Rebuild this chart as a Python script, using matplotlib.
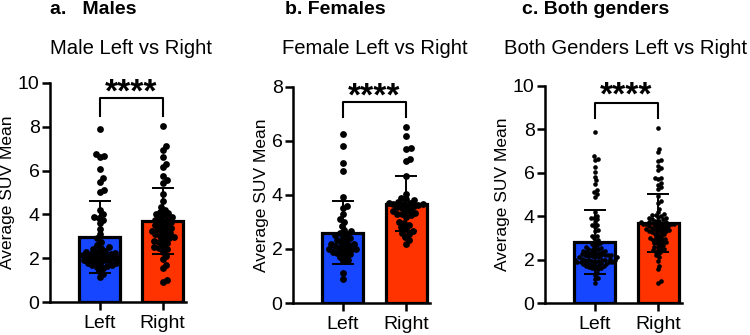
import numpy as np
import matplotlib
matplotlib.use("Agg")
import matplotlib.pyplot as plt

plt.rcParams['font.family'] = ['Liberation Sans', 'DejaVu Sans']

# values (average SUV mean per subject)
male_left = [7.88, 6.75, 6.65, 6.6, 6.05, 5.65, 5.5, 5.1, 5.0, 4.2, 4.0, 3.9, 3.85, 3.75,
             3.6, 3.35, 3.1, 2.9, 2.75, 2.6, 2.5, 2.45, 2.4, 2.35, 2.3, 2.3, 2.25, 2.2, 2.2,
             2.15, 2.1, 2.1, 2.05, 2.0, 2.0, 1.95, 1.9, 1.9, 1.85, 1.8, 1.8, 1.75, 1.7, 1.65,
             1.6, 1.55, 1.4, 1.3, 1.15, 2.0, 1.7, 2.2, 1.9]
male_right = [8.05, 7.1, 6.95, 6.6, 6.3, 6.15, 5.75, 5.55, 5.45, 4.95, 4.6, 4.35, 4.2, 4.1,
              4.05, 4.0, 3.95, 3.9, 3.85, 3.8, 3.75, 3.7, 3.65, 3.6, 3.55, 3.5, 3.45, 3.4,
              3.3, 3.25, 3.2, 3.15, 3.1, 3.05, 3.0, 2.95, 2.9, 2.85, 2.8, 2.7, 2.6, 2.5, 2.4,
              2.3, 2.1, 1.95, 1.7, 1.55, 1.0, 0.9, 3.35, 2.75, 2.45]
female_left = [6.27, 5.8, 5.2, 4.87, 3.92, 3.6, 3.5, 3.3, 3.1, 3.0, 2.85, 2.7, 2.65, 2.6,
               2.55, 2.5, 2.45, 2.4, 2.35, 2.3, 2.25, 2.2, 2.2, 2.15, 2.1, 2.05, 2.0, 2.0,
               1.95, 1.9, 1.85, 1.8, 1.75, 1.7, 1.6, 1.55, 1.1, 0.9, 2.0, 1.9, 2.1]
female_right = [6.53, 6.2, 5.75, 5.7, 5.35, 5.25, 4.7, 4.05, 3.9, 3.85, 3.8, 3.75, 3.72, 3.7,
                3.68, 3.65, 3.62, 3.6, 3.58, 3.55, 3.5, 3.45, 3.4, 3.35, 3.3, 3.25, 3.2, 3.3,
                3.4, 3.0, 2.95, 2.9, 2.8, 2.75, 2.65, 2.6, 2.55, 2.45, 2.35, 2.2, 3.65]
both_left = male_left + female_left
both_right = male_right + female_right

categories = ['Left', 'Right']
bar_colors = ['#1646FF', '#FF3300']

panels = [
    # data, axes rect, ymax, yticks, title, title x, label, label x, bracket y, marker size
    ((male_left, male_right), [0.0667, 0.0985, 0.181, 0.654], 10, [0, 2, 4, 6, 8, 10],
     'Male Left vs Right', 0.175, 'a.   Males', 0.066, (9.3, 8.5), 24),
    ((female_left, female_right), [0.3907, 0.0955, 0.182, 0.645], 8, [0, 2, 4, 6, 8],
     'Female Left vs Right', 0.50, 'b. Females', 0.380, (7.45, 6.9), 24),
    ((both_left, both_right), [0.7267, 0.0955, 0.182, 0.648], 10, [0, 2, 4, 6, 8, 10],
     'Both Genders Left vs Right', 0.834, 'c. Both genders', 0.696, (9.2, 8.5), 11),
]

W, H = 750, 335
fig = plt.figure(figsize=(7.5, 3.35), dpi=100)


def swarm(vals, d_px, xpx, ypx):
    # simple beeswarm: put each point as close to the centre as it can go
    vals = np.asarray(vals)
    offs = np.zeros(len(vals))
    placed = []
    for i in np.argsort(vals):
        y = vals[i] * ypx
        cands = [0.0]
        for px, py in placed:
            dy = y - py
            if abs(dy) < d_px:
                dx = np.sqrt(d_px ** 2 - dy ** 2)
                cands += [px + dx, px - dx]
        cands.sort(key=abs)
        for c in cands:
            if all((c - px) ** 2 + (y - py) ** 2 >= d_px ** 2 - 1e-6 for px, py in placed):
                offs[i] = c
                placed.append((c, y))
                break
    return offs / xpx


for (data, rect, ymax, yticks, title, tx, label, lx, (b_top, b_bot), ms) in panels:
    ax = fig.add_axes(rect)
    xlo, xhi = -0.79, 1.37
    ax.set_xlim(xlo, xhi)
    ax.set_ylim(0, ymax)
    xpx = rect[2] * W / (xhi - xlo)
    ypx = rect[3] * H / ymax

    means = [np.mean(d) for d in data]
    sds = [np.std(d, ddof=1) for d in data]
    ax.bar([0, 1], means, width=0.65, color=bar_colors, edgecolor='black',
           linewidth=2.3, zorder=1)
    d_px = np.sqrt(ms) * 100 / 72 * 0.72
    for i, d in enumerate(data):
        xs = i + swarm(d, d_px, xpx, ypx)
        ax.scatter(xs, d, s=ms, color='black', linewidths=0, zorder=3)
    ax.errorbar([0, 1], means, yerr=sds, fmt='none', ecolor='black', elinewidth=1.4,
                capsize=8, capthick=1.4, zorder=4)

    # significance bracket
    ax.plot([0, 0, 1, 1], [b_bot, b_top, b_top, b_bot], color='black', lw=1.5,
            clip_on=False)
    ax.text(0.5, ymax * 0.955, '****', ha='center', va='center', fontsize=24,
            fontweight='bold', clip_on=False)

    ax.spines['top'].set_visible(False)
    ax.spines['right'].set_visible(False)
    ax.spines['left'].set_linewidth(1.8)
    ax.spines['bottom'].set_linewidth(1.8)
    ax.set_yticks(yticks)
    ax.set_xticks([0, 1])
    ax.set_xticklabels(categories)
    ax.tick_params(width=1.8, length=6, labelsize=14, pad=1.5)
    ax.tick_params(axis='x', pad=3)
    ax.set_ylabel('Average SUV Mean', fontsize=12.5, labelpad=2)

    fig.text(tx, 1 - 48 / H, title, ha='center', va='center', fontsize=14.6)
    fig.text(lx, 1 - 10 / H, label, ha='left', va='center', fontsize=14,
             fontweight='bold')

fig.savefig('out.png', dpi=100)
